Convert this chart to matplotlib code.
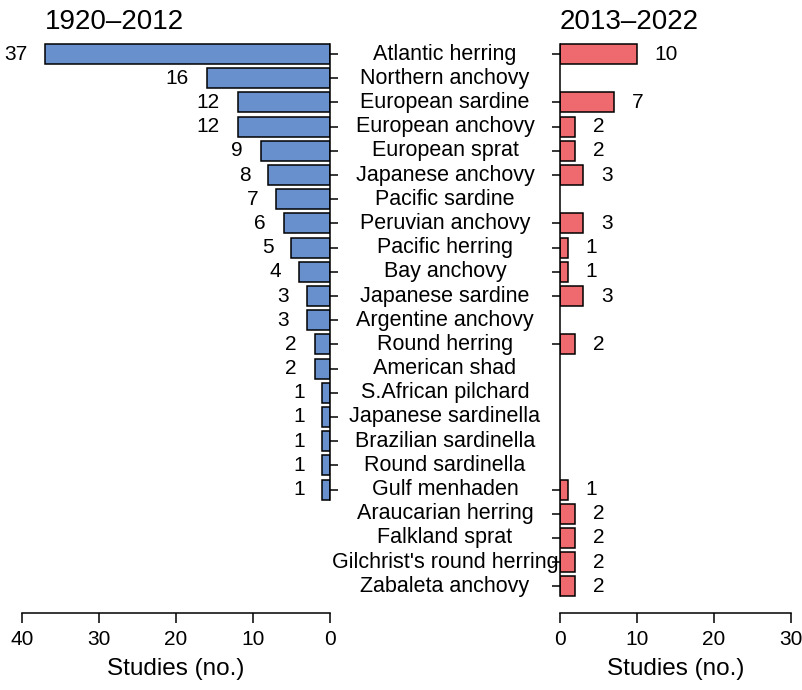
import matplotlib
matplotlib.use("Agg")
import matplotlib.pyplot as plt

plt.rcParams['font.family'] = ['Liberation Sans', 'DejaVu Sans']

species = ["Atlantic herring", "Northern anchovy", "European sardine", "European anchovy",
           "European sprat", "Japanese anchovy", "Pacific sardine", "Peruvian anchovy",
           "Pacific herring", "Bay anchovy", "Japanese sardine", "Argentine anchovy",
           "Round herring", "American shad", "S.African pilchard", "Japanese sardinella",
           "Brazilian sardinella", "Round sardinella", "Gulf menhaden", "Araucarian herring",
           "Falkland sprat", "Gilchrist's round herring", "Zabaleta anchovy"]
early = [37, 16, 12, 12, 9, 8, 7, 6, 5, 4, 3, 3, 2, 2, 1, 1, 1, 1, 1, 0, 0, 0, 0]
recent = [10, 0, 7, 2, 2, 3, 0, 3, 1, 1, 3, 0, 2, 0, 0, 0, 0, 0, 1, 2, 2, 2, 2]
title_early = "1920–2012"
title_recent = "2013–2022"
xlabel = "Studies (no.)"
xticks_early = [40, 30, 20, 10, 0]
xticks_recent = [0, 10, 20, 30]

blue = "#6890CC"
red = "#EE6A6E"
W, H = 803, 690
fig = plt.figure(figsize=(W / 100, H / 100), dpi=100)

bot = (H - 613) / H
top = (H - 40) / H
axL = fig.add_axes([22 / W, bot, 308 / W, top - bot])
axR = fig.add_axes([560 / W, bot, 231 / W, top - bot])

ypos = list(range(len(species)))
bh = 0.83
ylim = (23.1, -0.58)

for ax, vals, col, xt, xl in [(axL, early, blue, xticks_early, (40, 0)),
                              (axR, recent, red, xticks_recent, (0, 30))]:
    idx = [i for i, v in enumerate(vals) if v > 0]
    ax.barh([ypos[i] for i in idx], [vals[i] for i in idx], height=bh, color=col,
            edgecolor="black", linewidth=1.1, zorder=2)
    ax.set_xlim(*xl)
    ax.set_ylim(*ylim)
    ax.set_xticks(xt)
    ax.tick_params(axis='x', labelsize=15, length=7, width=1.1, direction='out', pad=5)
    ax.spines['bottom'].set_bounds(min(xt), max(xt))
    ax.spines['bottom'].set_linewidth(1.1)
    ax.spines['top'].set_visible(False)
    ax.set_xlabel(xlabel, fontsize=17.5, labelpad=7)
    ax.set_yticks([ypos[i] for i in idx])
    ax.set_yticklabels([])
    ax.patch.set_alpha(0)
    last = max(idx)
    if ax is axL:
        ax.spines['left'].set_visible(False)
        ax.spines['right'].set_bounds(-bh / 2, ypos[last] + bh / 2)
        ax.spines['right'].set_linewidth(1.1)
        ax.yaxis.tick_right()
        for i in idx:
            ax.text(vals[i] + 2.3, ypos[i], str(vals[i]), ha='right', va='center', fontsize=15)
    else:
        ax.spines['right'].set_visible(False)
        ax.spines['left'].set_bounds(-bh / 2, ypos[last] + bh / 2)
        ax.spines['left'].set_linewidth(1.1)
        ax.yaxis.tick_left()
        for i in idx:
            ax.text(vals[i] + 2.3, ypos[i], str(vals[i]), ha='left', va='center', fontsize=15)
    ax.tick_params(axis='y', length=6, width=1.1, direction='out')

# species names centred between panels
for i, name in enumerate(species):
    axL.annotate(name, xy=(445 / W, 0), xycoords=('figure fraction', 'data'),
                 xytext=(445 / W, ypos[i]), textcoords=('figure fraction', 'data'),
                 ha='center', va='center', fontsize=15.5, annotation_clip=False)

fig.text(45 / W, 1 - 22 / H, title_early, fontsize=20, ha='left', va='center')
fig.text(560 / W, 1 - 22 / H, title_recent, fontsize=20, ha='left', va='center')

fig.savefig("out.png", dpi=100)
